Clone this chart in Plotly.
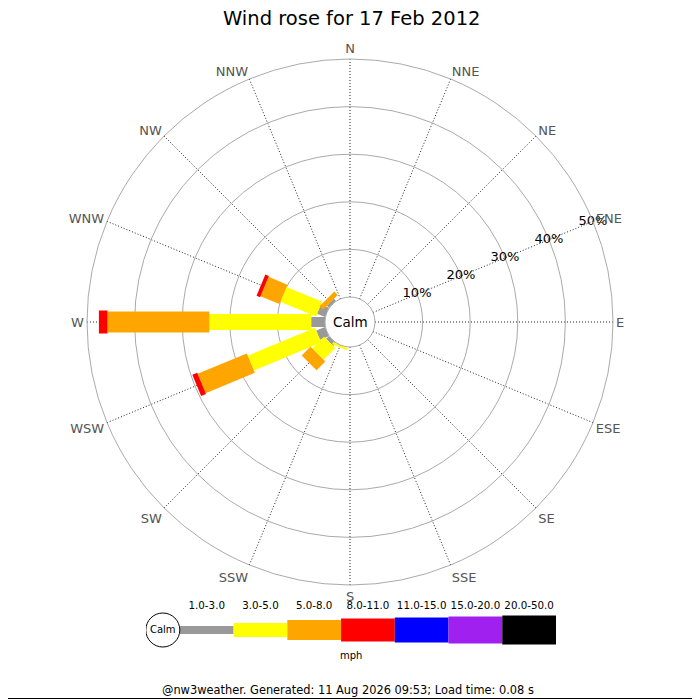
import plotly.graph_objects as go

# wind directions (compass order) and speed classes in mph
directions = ["N", "NNE", "NE", "ENE", "E", "ESE", "SE", "SSE",
              "S", "SSW", "SW", "WSW", "W", "WNW", "NW", "NNW"]
speed_bins = ["1.0-3.0", "3.0-5.0", "5.0-8.0", "8.0-11.0",
              "11.0-15.0", "15.0-20.0", "20.0-50.0"]

# percent of the day per direction, one list per speed class
pct_1_3 = [0, 0, 0, 0, 0, 0, 0, 0, 0, 0, 0.8, 2.0, 2.9, 1.8, 0.6, 0]
pct_3_5 = [0, 0, 0, 0, 0, 0, 0, 0, 0, 0.5, 3.5, 15.3, 21.4, 8.1, 0, 0]
pct_5_8 = [0, 0, 0, 0, 0, 0, 0, 0, 0, 0, 2.6, 11.2, 21.4, 4.3, 1.0, 0]
pct_8_11 = [0, 0, 0, 0, 0, 0, 0, 0, 0, 0, 0, 1.1, 1.8, 0.8, 0, 0]
pct_11_15 = [0] * 16
pct_15_20 = [0] * 16
pct_20_50 = [0] * 16
series = [pct_1_3, pct_3_5, pct_5_8, pct_8_11, pct_11_15, pct_15_20, pct_20_50]

ring_vals = [10, 20, 30, 40, 50]

# styling
colours = ["#999999", "#ffff00", "#ffa500", "#ff0000", "#0000ff", "#a020f0", "#000000"]
bar_px = [10, 16, 21, 23, 25, 27, 29]
key_px = [8, 14, 20, 23, 25, 27, 29]
FONT = "DejaVu Sans"
W = H = 692  # page has an 8px body margin, so the figure sits at (8, 8)


def px(v):  # reference pixel -> paper fraction (x)
    return (v - 8) / W


def py(v):  # reference pixel -> paper fraction (y, from top)
    return 1 - (v - 8) / H


fig = go.Figure()

# stacked rose bars drawn as thick radial strokes
cum = [0.0] * len(directions)
for k, vals in enumerate(series):
    r, th = [], []
    for i, d in enumerate(directions):
        if vals[i] > 0:
            r += [cum[i], cum[i] + vals[i], None]
            th += [d, d, None]
            cum[i] += vals[i]
    if r:
        fig.add_trace(go.Scatterpolar(
            r=r, theta=th, mode="lines", connectgaps=False,
            line=dict(color=colours[k], width=bar_px[k]),
            hoverinfo="skip", showlegend=False))

# percentage labels along ENE
fig.add_trace(go.Scatterpolar(
    r=ring_vals, theta=["ENE"] * len(ring_vals), mode="text",
    text=[f"{v}%" for v in ring_vals], textposition="middle center",
    textfont=dict(family=FONT, size=13, color="black"),
    hoverinfo="skip", showlegend=False))

# key below the rose
for k, lab in enumerate(speed_bins):
    fig.add_trace(go.Scatter(
        x=[k, k + 1], y=[0, 0], mode="lines",
        line=dict(color=colours[k], width=key_px[k]),
        xaxis="x", yaxis="y", hoverinfo="skip", showlegend=False))
fig.add_trace(go.Scatter(
    x=[i + 0.5 for i in range(len(speed_bins))], y=[0.77] * len(speed_bins),
    mode="text", text=speed_bins, textposition="middle center",
    textfont=dict(family=FONT, size=10.3, color="black"),
    xaxis="x", yaxis="y", hoverinfo="skip", showlegend=False))
fig.add_trace(go.Scatter(
    x=[-0.317], y=[0], mode="markers+text", text=["Calm"],
    textposition="middle center",
    textfont=dict(family=FONT, size=10, color="black"),
    marker=dict(size=34, color="white", line=dict(color="black", width=1)),
    xaxis="x", yaxis="y", hoverinfo="skip", showlegend=False))


def note(text, x, y, size):
    return dict(text=text, xref="paper", yref="paper", x=px(x), y=py(y),
                xanchor="center", yanchor="middle", showarrow=False,
                font=dict(family=FONT, size=size, color="black"))


fig.update_layout(
    width=W, height=H,
    margin=dict(l=0, r=0, t=0, b=0),
    paper_bgcolor="white", plot_bgcolor="white",
    font=dict(family=FONT, color="black"),
    showlegend=False,
    polar=dict(
        domain=dict(x=[px(87), px(613)], y=[py(585), py(59)]),
        hole=0.095,
        bgcolor="white",
        radialaxis=dict(range=[0, 50], tickvals=[0] + ring_vals,
                        showticklabels=False, ticks="", showline=False,
                        gridcolor="#aaaaaa", gridwidth=1),
        angularaxis=dict(type="category", categoryarray=directions,
                         rotation=90, direction="clockwise",
                         gridcolor="#222222", griddash="1px,2px", gridwidth=1,
                         showline=True, linecolor="#aaaaaa", linewidth=1,
                         ticks="", tickfont=dict(family=FONT, size=13, color="#555555")),
    ),
    xaxis=dict(domain=[px(146), px(556)], range=[-0.63, 7],
               visible=False, fixedrange=True),
    yaxis=dict(domain=[py(660), py(600)], range=[-1, 1],
               visible=False, fixedrange=True),
    annotations=[
        note("Wind rose for 17 Feb 2012", 351, 19, 19.5),
        note("Calm", 350, 322, 13.5),
        note("mph", 351, 655, 10),
        note("@nw3weather. Generated: 11 Aug 2026 09:53; Load time: 0.08 s", 348, 690, 11.4),
    ],
    shapes=[
        dict(type="line", xref="paper", yref="paper",
             x0=px(698.5), x1=px(698.5), y0=0, y1=1,
             line=dict(color="black", width=2)),
        dict(type="line", xref="paper", yref="paper",
             x0=0, x1=1, y0=1.5 / H, y1=1.5 / H,
             line=dict(color="black", width=1)),
    ],
)

fig.write_html("out.html")
